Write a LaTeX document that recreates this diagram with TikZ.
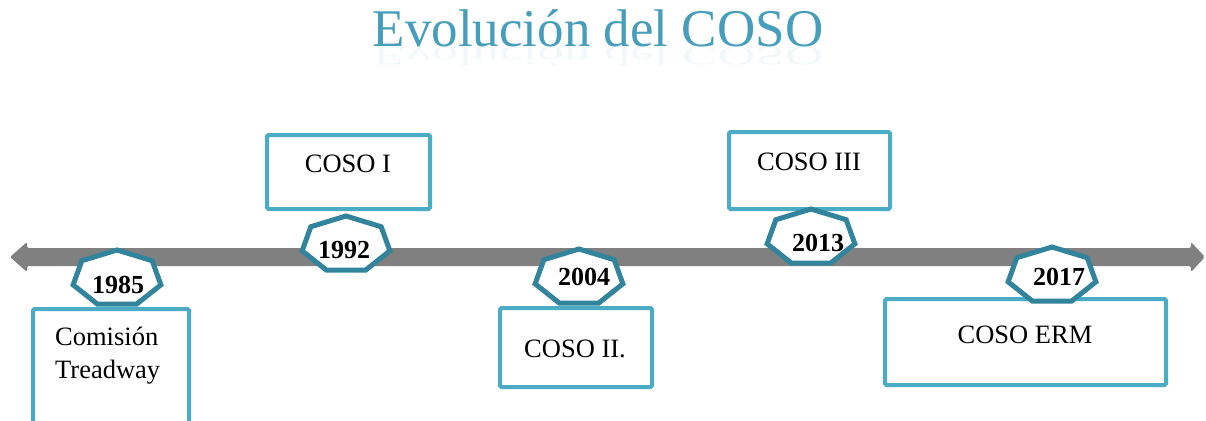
\documentclass[tikz,border=0pt]{standalone}
\usepackage{fontspec}
\setmainfont{Liberation Serif}
\usetikzlibrary{calc}
\definecolor{cosoteal}{RGB}{75,172,198}
\definecolor{cosodark}{RGB}{49,132,155}
\definecolor{cosotitle}{RGB}{70,158,188}
\definecolor{bargray}{RGB}{128,128,128}
\tikzset{
  evbox/.style={draw=cosoteal, line width=4pt, rounded corners=1.5pt, fill=white, inner sep=0pt},
  evtext/.style={anchor=base, inner sep=0pt, font=\fontsize{26.5}{32}\selectfont},
  yrtext/.style={anchor=base, inner sep=0pt, font=\fontsize{26}{30}\selectfont\bfseries},
  hept/.style={draw=cosodark, line width=5pt, fill=white},
  titletext/.style={anchor=base, inner sep=0pt, text=cosotitle, font=\fontsize{53}{60}\selectfont}
}
\newcommand{\hepta}[1]{\draw[hept] ($(#1)+(90:45 and 28.5)$) \foreach \k in {1,...,6}{ -- ($(#1)+(90+\k*360/7:45 and 28.5)$)} -- cycle;}
\begin{document}
\begin{tikzpicture}[x=1pt,y=1pt]
\useasboundingbox (0,0) rectangle (1206,-420);
\node[titletext] (title) at (598,-47) {Evolución del COSO};
\begin{scope}[shift={(0,-48)},yscale=-0.5]
\node[titletext, transform shape, opacity=0.07] (titlerefl) at (598,0) {Evolución del COSO};
\end{scope}

\fill[bargray, rounded corners=2pt] (27,-248) -- (27,-242) -- (10,-257) -- (27,-272) -- (27,-266)
  -- (1191,-266) -- (1191,-272) -- (1205,-257) -- (1191,-242) -- (1191,-248) -- cycle;

\node[evbox, minimum width=156, minimum height=116] (b1985) at (111,-367) {};
\node[evbox, minimum width=163, minimum height=74] (b1992) at (348.5,-172) {};
\node[evbox, minimum width=152, minimum height=79] (b2004) at (576,-347.5) {};
\node[evbox, minimum width=161, minimum height=77] (b2013) at (809.5,-170.5) {};
\node[evbox, minimum width=281, minimum height=86] (b2017) at (1025.5,-342) {};

\coordinate (h1985) at (117,-278.5);
\coordinate (h1992) at (346,-244.5);
\coordinate (h2004) at (579,-277.5);
\coordinate (h2013) at (811,-237.5);
\coordinate (h2017) at (1052,-275.5);
\foreach \y in {1985,1992,2004,2013,2017} {\hepta{h\y}}

\node[evtext, anchor=base west] (t1985a) at (55,-345) {Comisión};
\node[evtext, anchor=base west] (t1985b) at (55,-378) {Treadway};
\node[evtext] (t1992) at (348,-172) {COSO I};
\node[evtext] (t2004) at (575,-357) {COSO II.};
\node[evtext] (t2013) at (809,-170) {COSO III};
\node[evtext] (t2017) at (1025,-343) {COSO ERM};

\node[yrtext] (y1985) at (118,-293) {1985};
\node[yrtext] (y1992) at (344,-258) {1992};
\node[yrtext] (y2004) at (584,-285) {2004};
\node[yrtext] (y2013) at (818,-251) {2013};
\node[yrtext] (y2017) at (1059,-285) {2017};
\end{tikzpicture}
\end{document}
